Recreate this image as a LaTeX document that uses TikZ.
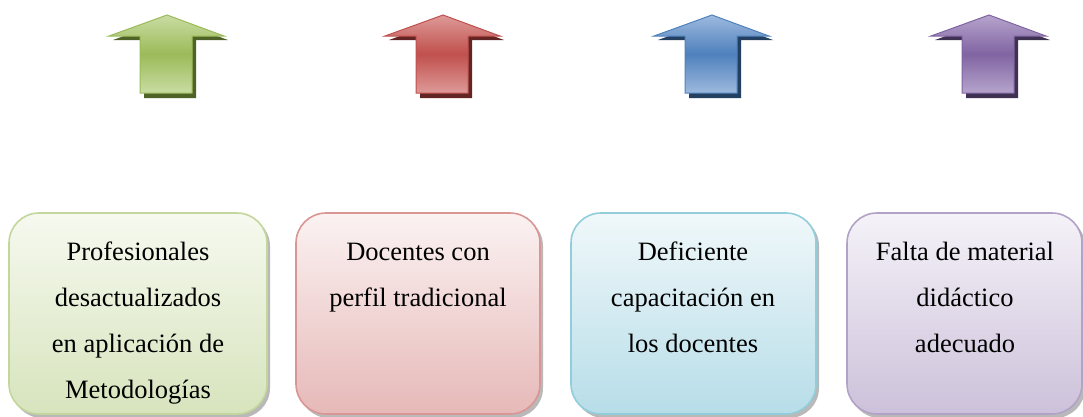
\documentclass[tikz,border=0pt]{standalone}
\usepackage{fontspec}
\setmainfont{Liberation Serif}
\begin{document}
\begin{tikzpicture}[x=1pt,y=-1pt,
  boxshape/.style={rounded corners=30pt, line width=1.6pt},
  boxtext/.style={align=center, anchor=base, font=\fontsize{26.5}{46}\selectfont, inner sep=0pt},
  upshaft/.style={line width=1pt}
]
\useasboundingbox (0,0) rectangle (1083,416);
\definecolor{gA}{HTML}{9BBB59}\definecolor{gL}{HTML}{C9DCA3}\definecolor{gS}{HTML}{4F6228}
\definecolor{gB}{HTML}{C3D69B}\definecolor{gT}{HTML}{F6F9EF}\definecolor{gE}{HTML}{D7E4BD}
\definecolor{rA}{HTML}{C0504D}\definecolor{rL}{HTML}{DE9A98}\definecolor{rS}{HTML}{632523}
\definecolor{rB}{HTML}{D99694}\definecolor{rT}{HTML}{FBF2F2}\definecolor{rE}{HTML}{E6B9B8}
\definecolor{bA}{HTML}{4F81BD}\definecolor{bL}{HTML}{9DB9DE}\definecolor{bS}{HTML}{244061}
\definecolor{bB}{HTML}{92CDDC}\definecolor{bT}{HTML}{F0F8FA}\definecolor{bE}{HTML}{B7DDE8}
\definecolor{pA}{HTML}{8064A2}\definecolor{pL}{HTML}{B6A4CC}\definecolor{pS}{HTML}{3F3151}
\definecolor{pB}{HTML}{B3A2C7}\definecolor{pT}{HTML}{F5F2F8}\definecolor{pE}{HTML}{CCC1DA}

% arrows: center x, main, light, shadow
\foreach \cx/\ma/\li/\sh/\nm in {167/gA/gL/gS/ua,443/rA/rL/rS/ub,712/bA/bL/bS/uc,989/pA/pL/pS/ud}{
  \fill[\sh] ({\cx+4},19) -- ({\cx-54},40) -- ({\cx-23},40) -- ({\cx-23},98) -- ({\cx+29},98) -- ({\cx+29},40) -- ({\cx+61},40) -- cycle;
  \draw[upshaft, draw=\ma, top color=\li, bottom color=\li, middle color=\ma]
    (\cx,15) -- ({\cx-58},36) -- ({\cx-27},36) -- ({\cx-27},93) -- ({\cx+25},93) -- ({\cx+25},36) -- ({\cx+57},36) -- cycle;
  \coordinate (\nm) at (\cx,15);
}

% boxes
\foreach \xa/\xb/\bd/\tp/\bt/\nm in {9/267/gB/gT/gE/ba, 296/540/rB/rT/rE/bb, 571/816/bB/bT/bE/bc, 847/1082/pB/pT/pE/bd}{
  \fill[gray!55, rounded corners=30pt] ({\xa+3},216) rectangle ({\xb+3},418);
  \draw[boxshape, draw=\bd, top color=\tp, bottom color=\bt] (\xa,213) rectangle (\xb,414);
  \coordinate (\nm) at ({(\xa+\xb)/2},213);
}

% base anchor = baseline of last line; first baseline at 260, spacing 46
\node[boxtext] (t1) at (138,398) {Profesionales\\desactualizados\\en aplicación de\\Metodologías};
\node[boxtext] (t2) at (418,306) {Docentes con\\perfil tradicional};
\node[boxtext] (t3) at (693,352) {Deficiente\\capacitación en\\los docentes};
\node[boxtext] (t4) at (965,352) {Falta de material\\didáctico\\adecuado};
\end{tikzpicture}
\end{document}
